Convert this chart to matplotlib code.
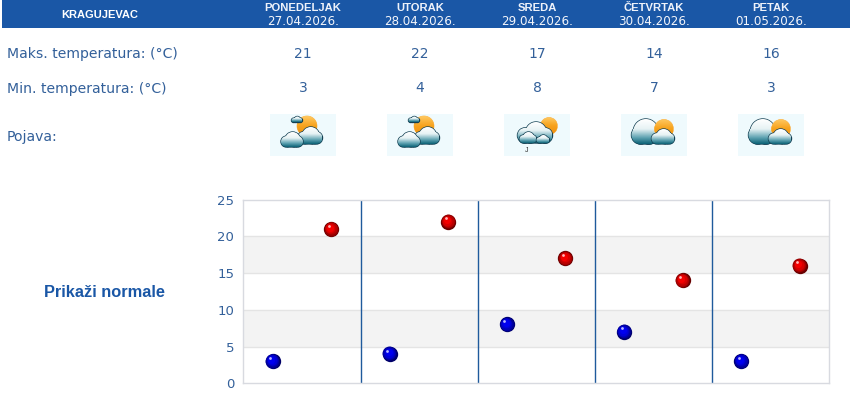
import numpy as np
import matplotlib
matplotlib.use('Agg')
import matplotlib.pyplot as plt
from matplotlib.patches import Circle, PathPatch, Rectangle
from matplotlib.path import Path
from matplotlib.transforms import ScaledTranslation
from matplotlib.colors import LinearSegmentedColormap

city = 'KRAGUJEVAC'
days = ['PONEDELJAK', 'UTORAK', 'SREDA', 'ČETVRTAK', 'PETAK']
dates = ['27.04.2026.', '28.04.2026.', '29.04.2026.', '30.04.2026.', '01.05.2026.']
max_temp = [21, 22, 17, 14, 16]
min_temp = [3, 4, 8, 7, 3]
icons = ['sun_front', 'sun_front', 'rain', 'cloudy', 'cloudy']
y_ticks = [0, 5, 10, 15, 20, 25]

W, H = 850, 403
BLUE = '#1a57a6'
TEXT = '#33609a'
col_x = [303, 420, 537, 654, 771]

cloud_cmap = LinearSegmentedColormap.from_list(
    'cloud', [(0, '#ffffff'), (0.4, '#e6f2f4'), (0.75, '#5fa3b2'), (1, '#0f6478')])
sun_cmap = LinearSegmentedColormap.from_list('sun', ['#ffc860', '#f7a21c', '#f0900f'])
layer = [3]


def gradient_blob(ax, circles, cmap, outline='#123f52', lw=1.0):
    # union of circles filled with a vertical gradient, stacked in call order
    layer[0] += 1
    unit = Path.unit_circle()
    path = Path.make_compound_path(*[
        Path(unit.vertices * r + (x, y), unit.codes) for x, y, r in circles
    ])
    for x, y, r in circles:
        ax.add_patch(Circle((x, y), r, fc=outline, ec=outline, lw=lw, zorder=layer[0]))
    x0 = min(c[0] - c[2] for c in circles)
    x1 = max(c[0] + c[2] for c in circles)
    y0 = min(c[1] - c[2] for c in circles)
    y1 = max(c[1] + c[2] for c in circles)
    layer[0] += 1
    im = ax.imshow(np.linspace(0, 1, 32).reshape(-1, 1), cmap=cmap, aspect='auto',
                   extent=(x0, x1, y1, y0), origin='upper', zorder=layer[0])
    clip = PathPatch(path, transform=ax.transData, fc='none', ec='none')
    ax.add_patch(clip)
    im.set_clip_path(clip)


def cloud(ax, cx, base, w, h):
    side = h * 0.36
    top = h * 0.5
    circles = [
        (cx - w / 2 + side, base - side, side),
        (cx + w * 0.03, base - top, top),
        (cx + w / 2 - side, base - side, side),
        (cx - w * 0.14, base - side, side),
        (cx + w * 0.14, base - side, side),
    ]
    gradient_blob(ax, circles, cloud_cmap)


def sun(ax, x, y, r):
    gradient_blob(ax, [(x, y, r)], sun_cmap, outline='#f9b552', lw=0.5)


def draw_icon(ax, cx, kind):
    ax.add_patch(Rectangle((cx - 33, 114), 66, 42, fc='#effafd', ec='none', zorder=1))
    if kind == 'sun_front':
        sun(ax, cx + 4, 126, 10)
        cloud(ax, cx - 6, 122.5, 11, 6)
        cloud(ax, cx + 7, 144, 25, 17)
        cloud(ax, cx - 11, 147, 22, 15)
    elif kind == 'rain':
        sun(ax, cx + 12, 126, 8.5)
        cloud(ax, cx - 2, 143, 35, 21)
        cloud(ax, cx - 9, 143, 17, 11)
        cloud(ax, cx + 6, 143, 13, 8)
        ax.text(cx - 10, 150.5, 'J', fontsize=5, color='#333333', ha='center', va='center',
                family='Liberation Sans', zorder=90)
    else:
        cloud(ax, cx - 9, 144, 27, 25)
        sun(ax, cx + 10, 129, 9.5)
        cloud(ax, cx + 9, 144, 23, 15)


def ball(ax, x, y, shades, shine):
    # stacked discs, each nudged towards the highlight
    fig = ax.figure
    sizes = [122, 100, 76, 50, 26]
    for k, (size, shade) in enumerate(zip(sizes, shades)):
        nudge = ScaledTranslation(-0.22 * k / 72, 0.26 * k / 72, fig.dpi_scale_trans)
        ax.scatter(x, y, s=size, c=shade, lw=0, zorder=5 + k, clip_on=False,
                   transform=ax.transData + nudge)
    high = ScaledTranslation(-1.8 / 72, 2.4 / 72, fig.dpi_scale_trans)
    ax.scatter(x, y, s=4, c=shine, lw=0, zorder=11, clip_on=False, transform=ax.transData + high)


def main():
    fig = plt.figure(figsize=(W / 100, H / 100), dpi=100, facecolor='white')

    bg = fig.add_axes([0, 0, 1, 1])
    bg.axis('off')
    bg.add_patch(Rectangle((2, 0), W - 2, 28, fc=BLUE, ec='none'))
    bg.text(99.5, 14.5, city, color='white', fontsize=8, fontweight='bold', family='Liberation Sans',
            ha='center', va='center')

    for i, x in enumerate(col_x):
        bg.text(x, 8, days[i], color='#eef2fa', fontsize=8.1, family='Liberation Sans',
                fontweight='bold', ha='center', va='center')
        bg.text(x, 21.5, dates[i], color='#f4f6fb', fontsize=8.6, family='DejaVu Sans',
                ha='center', va='center')
        bg.text(x, 54, str(max_temp[i]), color=TEXT, fontsize=10, ha='center', va='center')
        bg.text(x, 88.5, str(min_temp[i]), color=TEXT, fontsize=10, ha='center', va='center')
        draw_icon(bg, x, icons[i])

    bg.text(7, 54, 'Maks. temperatura: (°C)', color=TEXT, fontsize=10.1, va='center')
    bg.text(7, 88.5, 'Min. temperatura: (°C)', color=TEXT, fontsize=10.1, va='center')
    bg.text(7, 136.5, 'Pojava:', color=TEXT, fontsize=10.1, va='center')
    bg.text(104.5, 292.5, 'Prikaži normale', color=BLUE, fontsize=11.8, fontweight='bold',
            family='Liberation Sans', ha='center', va='center')
    bg.set_xlim(0, W)
    bg.set_ylim(H, 0)

    ax = fig.add_axes([243.4 / W, 1 - 383.2 / H, 585.6 / W, 183.5 / H])
    ax.set_xlim(0, 5)
    ax.set_ylim(0, 25)
    ax.patch.set_alpha(0)
    for lo in (5, 15):
        ax.axhspan(lo, lo + 5, color='#f3f3f3', lw=0, zorder=0)
    for y in y_ticks[1:-1]:
        ax.axhline(y, color='#e4e4e4', lw=1, zorder=1)
    for x in range(1, 5):
        ax.axvline(x, color='#1f5a9c', lw=1, zorder=2)

    ax.set_xticks([])
    ax.set_yticks(y_ticks)
    ax.tick_params(axis='y', length=0, pad=6.5, labelsize=9.5, labelcolor=TEXT)
    for spine in ax.spines.values():
        spine.set_color('#d8dae0')
        spine.set_linewidth(1)

    pos = np.arange(len(days))
    ball(ax, pos + 0.25, min_temp, ['#000068', '#000094', '#0000b8', '#0000d8', '#0000f0'], '#b8b8ff')
    ball(ax, pos + 0.75, max_temp, ['#680000', '#940000', '#b80000', '#d80000', '#f40000'], '#ffb8b8')

    fig.savefig('out.png', dpi=100)


if __name__ == '__main__':
    main()
